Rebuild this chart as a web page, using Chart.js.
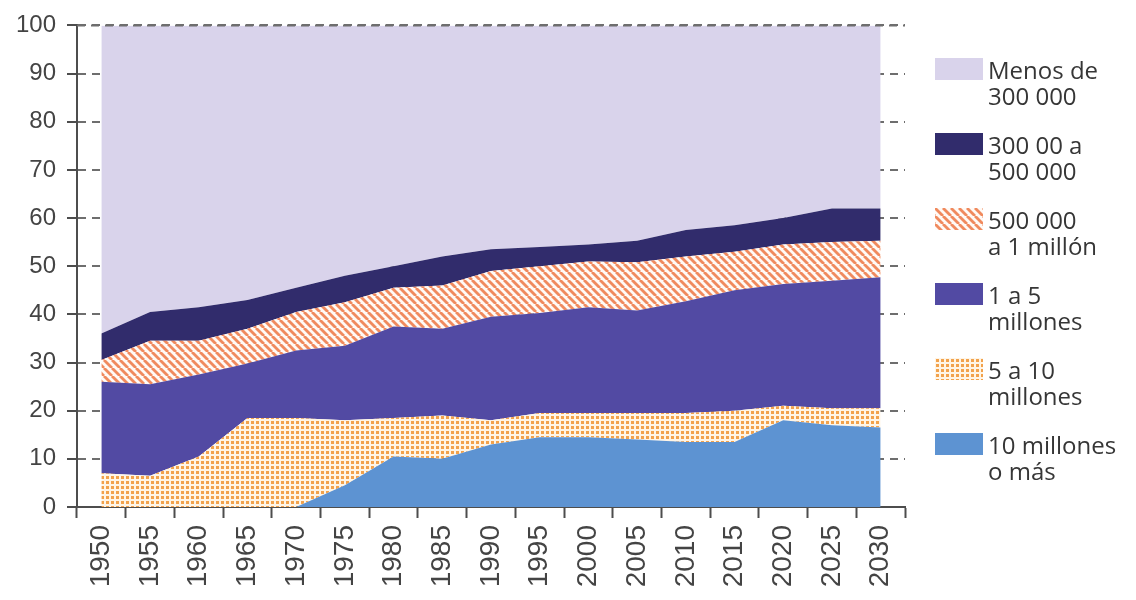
<!DOCTYPE html>
<html lang="es">
<head>
<meta charset="utf-8">
<title>Población urbana por tamaño de ciudad</title>
<script src="https://cdn.jsdelivr.net/npm/chart.js@4.4.1/dist/chart.umd.min.js"></script>
<style>
    html, body {
        margin: 0;
        padding: 0;
        background: #ffffff;
    }
    #wrap {
        position: relative;
        width: 1136px;
        height: 600px;
        overflow: hidden;
    }
    #legend {
        position: absolute;
        left: 935px;
        top: 57px;
        font-family: "Open Sans", "Noto Sans", sans-serif;
        font-size: 24px;
        line-height: 26px;
        color: #363636;
    }
    .item {
        display: flex;
        align-items: flex-start;
        height: 75px;
    }
    .swatch {
        width: 48px;
        height: 22px;
        margin-top: 1px;
        margin-right: 5px;
        flex: none;
    }
</style>
</head>
<body>
<div id="wrap">
    <canvas id="chart" width="1136" height="600"></canvas>
    <div id="legend"></div>
</div>
<script>
// Data (percent of urban population by city size)
const years = ['1950', '1955', '1960', '1965', '1970', '1975', '1980', '1985', '1990',
               '1995', '2000', '2005', '2010', '2015', '2020', '2025', '2030'];

const tenPlus     = [0, 0, 0, 0, 0, 4.5, 10.5, 10, 13, 14.5, 14.5, 14, 13.5, 13.5, 18, 17, 16.5];
const fiveToTen   = [7, 6.5, 10.5, 18.5, 18.5, 13.5, 8, 9, 5, 5, 5, 5.5, 6, 6.5, 3, 3.5, 4];
const oneToFive   = [19, 19, 17, 11.3, 14, 15.5, 19, 18, 21.5, 20.8, 22, 21.3, 23.2, 25, 25.3, 26.5, 27.2];
const halfToOne   = [4.5, 9, 7, 7.2, 8, 9, 8, 9, 9.5, 9.7, 9.5, 10, 9.3, 8, 8.2, 8, 7.6];
const threeToHalf = [5.5, 6, 7, 6, 5, 5.5, 4.5, 6, 4.5, 4, 3.5, 4.5, 5.5, 5.5, 5.5, 7, 6.7];
const lessThan    = [64, 59.5, 58.5, 57, 54.5, 52, 50, 48, 46.5, 46, 45.5, 44.7, 42.5, 41.5, 40, 38, 38];

const yTicks = [0, 10, 20, 30, 40, 50, 60, 70, 80, 90, 100];

const axisColor = '#4d4d4d';
const gridColor = '#6e6e6e';

// Patterns for the hatched and dotted bands
function makeHatch() {
    const c = document.createElement('canvas');
    c.width = 8;
    c.height = 8;
    const g = c.getContext('2d');
    g.fillStyle = '#fffaf6';
    g.fillRect(0, 0, 8, 8);
    g.strokeStyle = '#f08a5e';
    g.lineWidth = 2.8;
    [-8, 0, 8].forEach(o => {
        g.beginPath();
        g.moveTo(o, 0);
        g.lineTo(o + 8, 8);
        g.stroke();
    });
    return c;
}

function makeDots() {
    const c = document.createElement('canvas');
    c.width = 5;
    c.height = 5;
    const g = c.getContext('2d');
    g.fillStyle = '#fff5e6';
    g.fillRect(0, 0, 5, 5);
    g.fillStyle = '#f2a24c';
    g.fillRect(1, 1, 3, 3);
    return c;
}

const canvas = document.getElementById('chart');
const ctx = canvas.getContext('2d');
const hatchCanvas = makeHatch();
const dotsCanvas = makeDots();
const hatch = ctx.createPattern(hatchCanvas, 'repeat');
const dots = ctx.createPattern(dotsCanvas, 'repeat');

const series = [
    { label: '10 millones o más', lines: ['10 millones', 'o más'], data: tenPlus, fill: '#5d93d2', css: '#5d93d2' },
    { label: '5 a 10 millones', lines: ['5 a 10', 'millones'], data: fiveToTen, fill: dots, css: 'dots' },
    { label: '1 a 5 millones', lines: ['1 a 5', 'millones'], data: oneToFive, fill: '#524aa3', css: '#524aa3' },
    { label: '500 000 a 1 millón', lines: ['500 000', 'a 1 millón'], data: halfToOne, fill: hatch, css: 'hatch' },
    { label: '300 00 a 500 000', lines: ['300 00 a', '500 000'], data: threeToHalf, fill: '#312c6c', css: '#312c6c' },
    { label: 'Menos de 300 000', lines: ['Menos de', '300 000'], data: lessThan, fill: '#d9d3eb', css: '#d9d3eb' }
];

// Dashed line at 100 drawn over the areas
const topLine = {
    id: 'topLine',
    afterDatasetsDraw(chart) {
        const { ctx, chartArea, scales } = chart;
        const y = scales.y.getPixelForValue(100);
        ctx.save();
        ctx.strokeStyle = gridColor;
        ctx.lineWidth = 2;
        ctx.setLineDash([8, 6]);
        ctx.beginPath();
        ctx.moveTo(chartArea.left, y);
        ctx.lineTo(chartArea.right, y);
        ctx.stroke();
        ctx.restore();
    }
};

const chart = new Chart(ctx, {
    type: 'line',
    data: {
        labels: years,
        datasets: series.map((s, i) => ({
            label: s.label,
            data: s.data,
            backgroundColor: s.fill,
            borderColor: 'transparent',
            borderWidth: 0,
            pointRadius: 0,
            tension: 0,
            fill: i === 0 ? 'origin' : '-1'
        }))
    },
    options: {
        responsive: false,
        animation: false,
        events: [],
        layout: {
            padding: { left: 0, top: 24, right: 231, bottom: 0 }
        },
        plugins: {
            legend: { display: false },
            tooltip: { enabled: false }
        },
        scales: {
            x: {
                offset: true,
                grid: {
                    offset: true,
                    drawOnChartArea: false,
                    tickLength: 11,
                    tickColor: axisColor,
                    tickWidth: 2
                },
                border: { color: axisColor, width: 2 },
                ticks: {
                    autoSkip: false,
                    minRotation: 90,
                    maxRotation: 90,
                    padding: 7,
                    color: '#444444',
                    font: { family: '"Liberation Sans", Arial, sans-serif', size: 28 }
                },
                afterFit: s => { s.height = 93; }
            },
            y: {
                stacked: true,
                min: 0,
                max: 100,
                afterBuildTicks: s => { s.ticks = yTicks.map(v => ({ value: v })); },
                grid: {
                    color: gridColor,
                    lineWidth: 2,
                    tickLength: 10,
                    tickColor: axisColor,
                    tickWidth: 2,
                    tickBorderDash: []
                },
                border: { color: axisColor, width: 2, dash: [8, 6] },
                ticks: {
                    padding: 11,
                    color: '#444444',
                    font: { family: '"Liberation Sans", Arial, sans-serif', size: 24 }
                },
                afterFit: s => { s.width = 77; }
            }
        }
    },
    plugins: [topLine]
});

// HTML legend (two-line labels), top item first
const legend = document.getElementById('legend');
series.slice().reverse().forEach(s => {
    const item = document.createElement('div');
    item.className = 'item';
    const sw = document.createElement('div');
    sw.className = 'swatch';
    if (s.css === 'hatch') {
        sw.style.backgroundImage = `url(${hatchCanvas.toDataURL()})`;
    } else if (s.css === 'dots') {
        sw.style.backgroundImage = `url(${dotsCanvas.toDataURL()})`;
    } else {
        sw.style.background = s.css;
    }
    const txt = document.createElement('div');
    txt.innerHTML = s.lines.join('<br>');
    item.appendChild(sw);
    item.appendChild(txt);
    legend.appendChild(item);
});
</script>
</body>
</html>
